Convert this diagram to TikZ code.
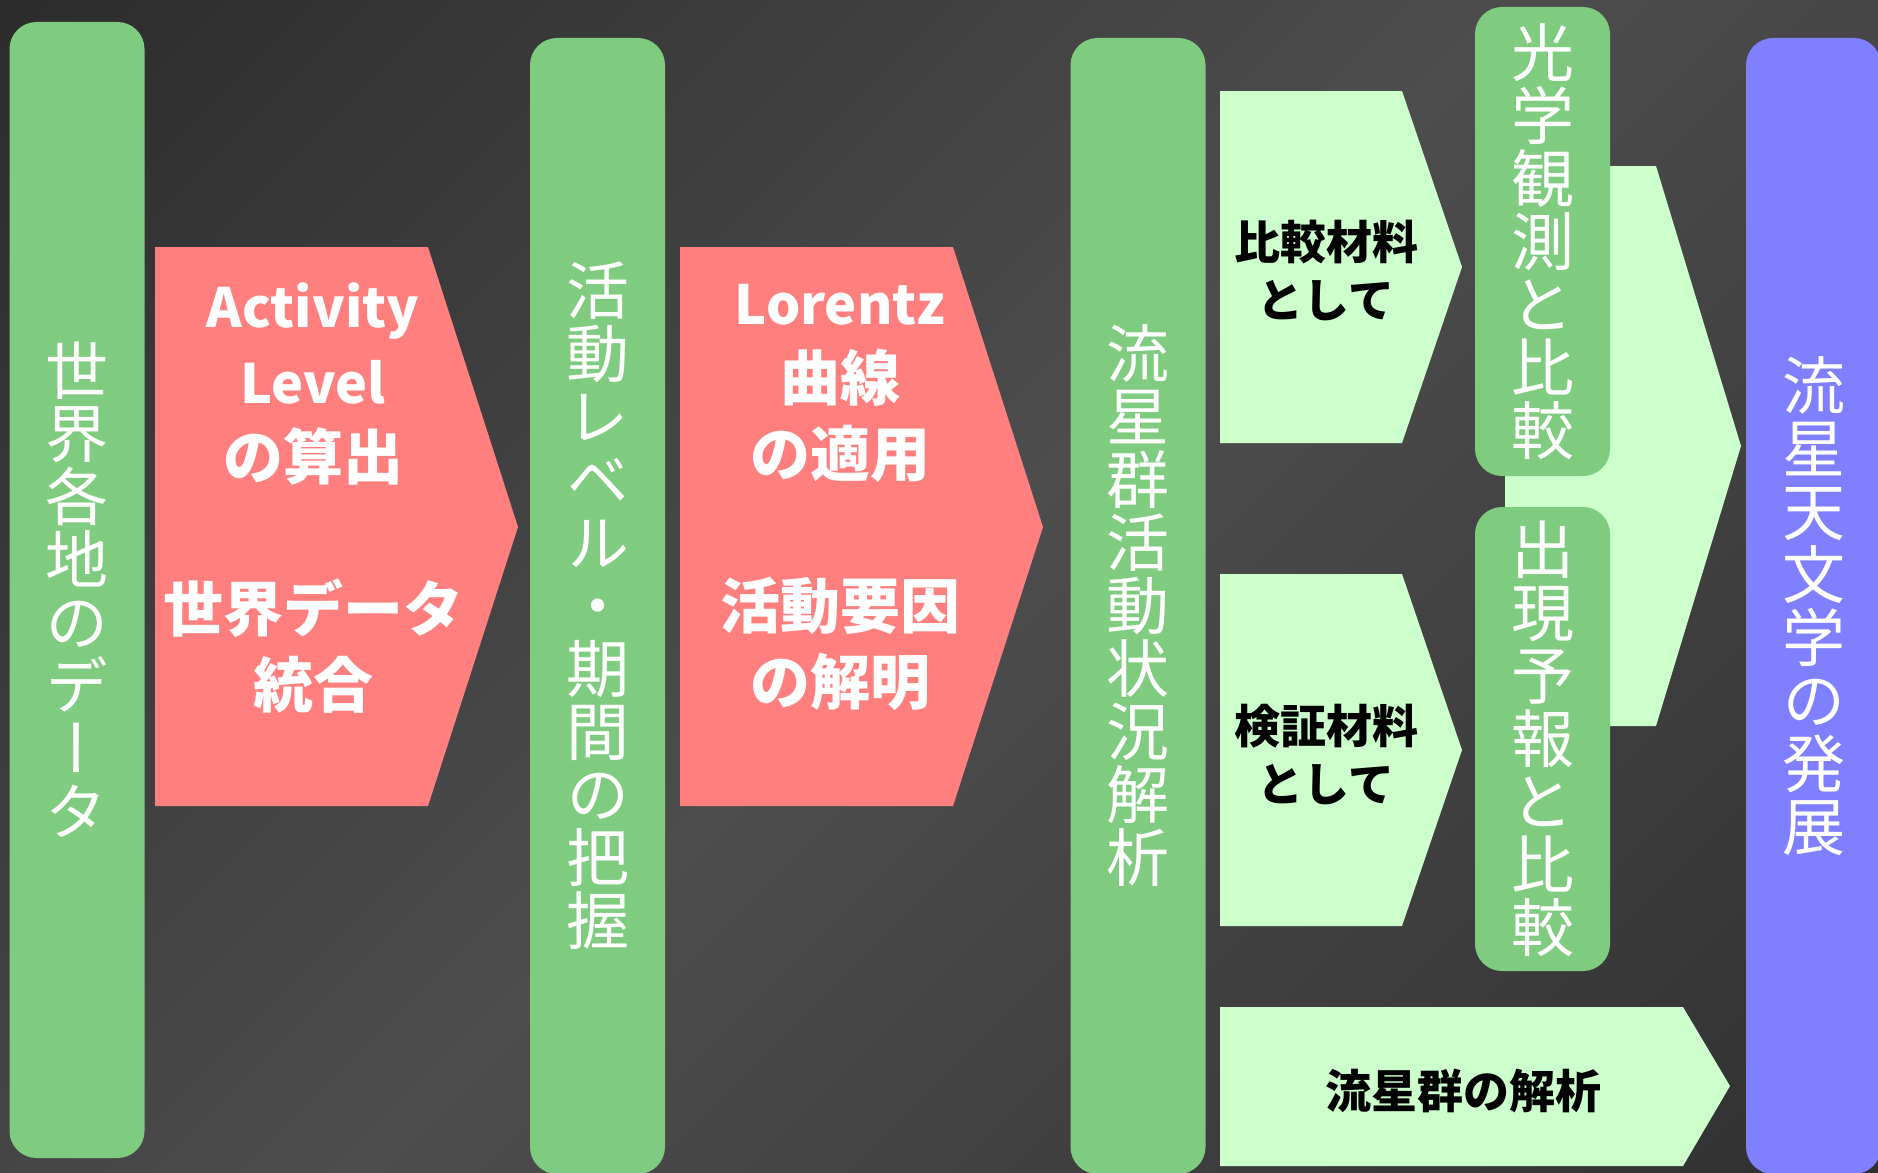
\documentclass[tikz,border=0pt]{standalone}
\usepackage{fontspec}
\newfontfamily\jp{Noto Sans CJK JP}
\newfontfamily\jpv[RawFeature=+vert]{Noto Sans CJK JP}
\definecolor{bgA}{HTML}{1E1E1E}
\definecolor{bgB}{HTML}{4D4D4D}
\definecolor{bgC}{HTML}{242424}
\definecolor{barGreen}{HTML}{7FCB7F}
\definecolor{arrRed}{HTML}{FF7F7F}
\definecolor{lightGreen}{HTML}{CCFFCC}
\definecolor{barBlue}{HTML}{7F7FFF}
\pgfdeclarehorizontalshading{bgshade}{100bp}{color(0bp)=(bgA); color(50bp)=(bgB); color(100bp)=(bgC)}
\newcommand{\latline}[1]{{\fontsize{54}{76}\selectfont #1}}
\tikzset{
  vbar/.style={rounded corners=27pt, inner sep=0pt, text=white, align=center,
    font=\jpv\fontsize{63}{63}\selectfont, minimum width=135pt},
  greenbar/.style={vbar, fill=barGreen},
  bluebar/.style={vbar, fill=barBlue},
  redarrow/.style={fill=arrRed},
  lightarrow/.style={fill=lightGreen},
  redtext/.style={text=white, align=center, inner sep=0pt,
    font=\jp\bfseries\fontsize{60}{76}\selectfont},
  blacktext/.style={text=black, align=center, inner sep=0pt,
    font=\jp\bfseries\fontsize{46}{58}\selectfont},
}
\begin{document}
\begin{tikzpicture}[x=1pt, y=-1pt]
\useasboundingbox (0,0) rectangle (1878,1172);
\shade[shading=bgshade, shading angle=-45] (0,0) rectangle (1878,1172);

% vertical bars
\node[greenbar, minimum height=1136pt] (b1) at (77,590) {世\\界\\各\\地\\の\\デ\\ー\\タ};
\node[greenbar, minimum height=1136pt] (b2) at (597.5,606) {活\\動\\レ\\ベ\\ル\\・\\期\\間\\の\\把\\握};
\node[greenbar, minimum height=1136pt] (b3) at (1138,606) {流\\星\\群\\活\\動\\状\\況\\解\\析};
\node[bluebar, minimum height=1136pt] (b4) at (1813.5,606) {流\\星\\天\\文\\学\\の\\発\\展};

% red arrows
\fill[redarrow] (155,247) -- (428,247) -- (518,527) -- (428,806) -- (155,806) -- cycle;
\fill[redarrow] (680,247) -- (953,247) -- (1043,527) -- (953,806) -- (680,806) -- cycle;
\node[redtext] (r1) at (313,498) {\latline{Activity}\\\latline{Level}\\の算出\\\mbox{}\\世界データ\\統合};
\node[redtext] (r2) at (840,497) {\latline{Lorentz}\\曲線\\の適用\\\mbox{}\\活動要因\\の解明};

% light green arrows
\fill[lightarrow] (1220,91) -- (1402,91) -- (1462,267) -- (1402,443) -- (1220,443) -- cycle;
\fill[lightarrow] (1220,574) -- (1402,574) -- (1462,750) -- (1402,926) -- (1220,926) -- cycle;
\fill[lightarrow] (1505,166) -- (1656,166) -- (1741,446) -- (1656,726) -- (1505,726) -- cycle;
\fill[lightarrow] (1220,1007) -- (1683,1007) -- (1730,1086) -- (1683,1166) -- (1220,1166) -- cycle;
\node[blacktext] (l1) at (1326,271) {比較材料\\として};
\node[blacktext] (l2) at (1326,755) {検証材料\\として};
\node[blacktext] (l3) at (1463,1091) {流星群の解析};

% comparison boxes
\node[greenbar, minimum height=469pt] (c1) at (1542.5,241.5) {光\\学\\観\\測\\と\\比\\較};
\node[greenbar, minimum height=464pt] (c2) at (1542.5,739) {出\\現\\予\\報\\と\\比\\較};
\end{tikzpicture}
\end{document}
